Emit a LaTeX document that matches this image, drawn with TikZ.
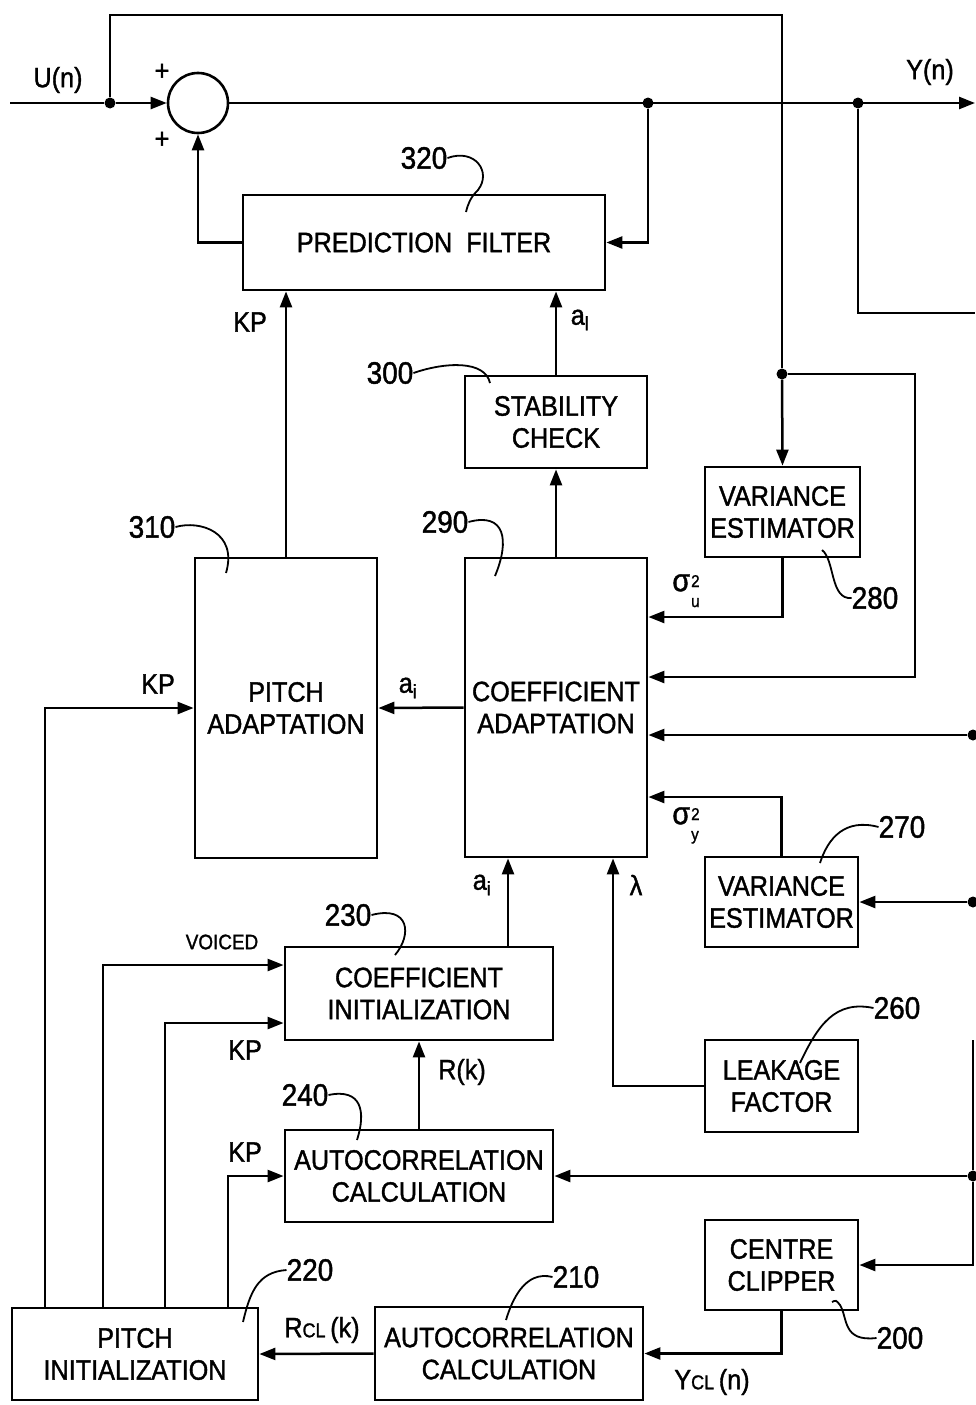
\documentclass[tikz,border=0pt]{standalone}
\usepackage{fontspec}
\setmainfont[FakeStretch=0.9,FakeBold=1.3]{Liberation Sans}
\usepackage{tikz}
\usetikzlibrary{arrows.meta}

\newcommand{\sigvar}[1]{{\fontsize{32}{32}\selectfont σ}\kern1pt\raisebox{-0.22em}{\fontsize{17}{16}\selectfont\renewcommand{\arraystretch}{1.25}\begin{tabular}{@{}l@{}}2\\#1\end{tabular}}}

\begin{document}
\begin{tikzpicture}[x=1pt,y=1pt,yscale=-1,xscale=1,
    blk/.style={draw,line width=2.8pt,align=center,inner sep=0pt,font=\fontsize{28}{32}\selectfont},
    ln/.style={line width=2.5pt},
    arr/.style={line width=2.5pt,-{Triangle[length=16pt,width=12pt]}},
    dot/.style={circle,fill,inner sep=0pt,minimum size=11pt},
    lbl/.style={inner sep=0pt,font=\fontsize{28}{32}\selectfont},
    num/.style={inner sep=0pt,font=\fontsize{31}{34}\selectfont},
    lead/.style={line width=1.8pt}]
\useasboundingbox (0,0) rectangle (975,1405);

% Blocks
\node[blk,minimum width=362pt,minimum height=95pt] (pf) at (424,242.5) {PREDICTION\ \ FILTER};
\node[blk,minimum width=182pt,minimum height=92pt] (sc) at (556,422) {STABILITY\\CHECK};
\node[blk,minimum width=155pt,minimum height=90pt] (ve1) at (782.5,512) {VARIANCE\\ESTIMATOR};
\node[blk,minimum width=182pt,minimum height=299pt] (ca) at (556,707.5) {COEFFICIENT\\ADAPTATION};
\node[blk,minimum width=182pt,minimum height=300pt] (pa) at (286,708) {PITCH\\ADAPTATION};
\node[blk,minimum width=153pt,minimum height=90pt] (ve2) at (781.5,902) {VARIANCE\\ESTIMATOR};
\node[blk,minimum width=153pt,minimum height=92pt] (lf) at (781.5,1086) {LEAKAGE\\FACTOR};
\node[blk,minimum width=268pt,minimum height=93pt] (ci) at (419,993.5) {COEFFICIENT\\INITIALIZATION};
\node[blk,minimum width=268pt,minimum height=92pt] (ac1) at (419,1176) {AUTOCORRELATION\\CALCULATION};
\node[blk,minimum width=153pt,minimum height=90pt] (cc) at (781.5,1265) {CENTRE\\CLIPPER};
\node[blk,minimum width=268pt,minimum height=93pt] (ac2) at (509,1353.5) {AUTOCORRELATION\\CALCULATION};
\node[blk,minimum width=246pt,minimum height=92pt] (pi) at (135,1354) {PITCH\\INITIALIZATION};

% Summing point and junctions
\node[draw,circle,line width=2.6pt,minimum size=60pt,inner sep=0pt] (sum) at (198,103) {};
\coordinate (uin) at (10,103);
\node[dot] (ju) at (110,103) {};
\node[dot] (jy1) at (648,103) {};
\node[dot] (jy2) at (858,103) {};
\coordinate (yout) at (975,103);
\coordinate (ytop) at (782,15);
\node[dot] (jv) at (782,374) {};
\coordinate (vloop) at (915,374);
\coordinate (yright) at (975,313);
\node[dot] (e1) at (973,735) {};
\node[dot] (e2) at (973,902) {};
\node[dot] (e3) at (973,1176) {};
\coordinate (e0) at (973,1040);

% Connectors
\draw[ln] (uin) -- (ju);
\draw[arr] (ju) -- (sum.west);
\draw[ln] (ju) |- (ytop) -- (jv);
\draw[arr] (jv) -- (ve1.north);
\draw[arr] (sum.east) -- (yout);
\draw[arr] (jy1) |- (pf.east);
\draw[ln] (jy2) |- (yright);
\draw[arr] (pf.west) -| (sum.south);
\draw[arr] (pa.north) -- (pa.north |- pf.south);
\draw[arr] (sc.north) -- (sc.north |- pf.south);
\draw[arr] (ca.north) -- (sc.south);
\draw[arr] (ve1.south) |- (ca.east |- 0,617);
\draw[arr] (jv) -- (vloop) |- (ca.east |- 0,677);
\draw[arr] (e1) -- (ca.east |- e1);
\draw[arr] (ve2.north) |- (ca.east |- 0,797);
\draw[arr] (e2) -- (ve2.east);
\draw[arr] (ca.west) -- (pa.east);
\draw[arr] (pi.north -| 45,0) |- (pa.west);
\draw[arr] (ci.north -| 508,0) -- (ca.south -| 508,0);
\draw[arr] (lf.west) -| (ca.south -| 613,0);
\draw[arr] (pi.north -| 103,0) |- (ci.west |- 0,965);
\draw[arr] (pi.north -| 165,0) |- (ci.west |- 0,1023);
\draw[arr] (ac1.north) -- (ci.south);
\draw[arr] (pi.north -| 228,0) |- (ac1.west);
\draw[arr] (e3) -- (ac1.east);
\draw[ln] (e0) -- (e3);
\draw[arr] (e3) |- (cc.east);
\draw[arr] (cc.south) |- (ac2.east);
\draw[arr] (ac2.west) -- (pi.east);

% Text Node
\node[lbl] (tun) at (58,80) {U(n)};
\node[lbl] (tyn) at (930,72) {Y(n)};
\node[lbl] (tp1) at (162,72) {+};
\node[lbl] (tp2) at (162,140) {+};
\node[lbl] (tkp1) at (250,322) {KP};
\node[lbl] (tal) at (580,320) {a\textsubscript{l}};
\node[lbl] (tsu) at (686,593) {\sigvar{u}};
\node[lbl] (tkp2) at (158,684) {KP};
\node[lbl] (tai1) at (408,688) {a\textsubscript{i}};
\node[lbl] (tsy) at (686,826) {\sigvar{y}};
\node[lbl] (tai2) at (482,885) {a\textsubscript{i}};
\node[lbl] (tlam) at (636,885) {λ};
\node[lbl,font=\fontsize{21}{24}\selectfont] (tvoi) at (222,942) {VOICED};
\node[lbl] (tkp3) at (245,1050) {KP};
\node[lbl] (trk) at (462,1072) {R(k)};
\node[lbl] (tkp4) at (245,1152) {KP};
\node[lbl] (trcl) at (322,1330) {R{\fontsize{20}{20}\selectfont CL}\,(k)};
\node[lbl] (tycl) at (712,1382) {Y{\fontsize{20}{20}\selectfont CL}\,(n)};

% Reference numerals
\node[num] (n320) at (424,158) {320};
\node[num] (n300) at (390,373) {300};
\node[num] (n310) at (152,527) {310};
\node[num] (n290) at (445,522) {290};
\node[num] (n280) at (875,598) {280};
\node[num] (n270) at (902,827) {270};
\node[num] (n260) at (897,1008) {260};
\node[num] (n230) at (348,915) {230};
\node[num] (n240) at (305,1095) {240};
\node[num] (n220) at (310,1270) {220};
\node[num] (n210) at (576,1277) {210};
\node[num] (n200) at (900,1338) {200};

% Leaders
\draw[lead] (n320.east) .. controls (475,148) and (492,172) .. (478,190) .. controls (470,198) and (468,204) .. (466,212);
\draw[lead] (n300.east) .. controls (445,362) and (485,360) .. (490,383);
\draw[lead] (n310.east) .. controls (200,520) and (238,532) .. (226,573);
\draw[lead] (n290.east) .. controls (505,512) and (510,540) .. (495,576);
\draw[lead] (n280.west) .. controls (830,600) and (835,560) .. (822,550);
\draw[lead] (n270.west) .. controls (845,818) and (828,838) .. (820,863);
\draw[lead] (n260.west) .. controls (835,1000) and (818,1025) .. (800,1063);
\draw[lead] (n230.east) .. controls (410,905) and (412,935) .. (395,955);
\draw[lead] (n240.east) .. controls (362,1088) and (366,1112) .. (357,1140);
\draw[lead] (n220.west) .. controls (258,1272) and (250,1292) .. (243,1322);
\draw[lead] (n210.west) .. controls (525,1270) and (512,1300) .. (506,1320);
\draw[lead] (n200.west) .. controls (842,1342) and (848,1318) .. (840,1305) .. controls (836,1300) .. (832,1302);
\end{tikzpicture}
\end{document}
